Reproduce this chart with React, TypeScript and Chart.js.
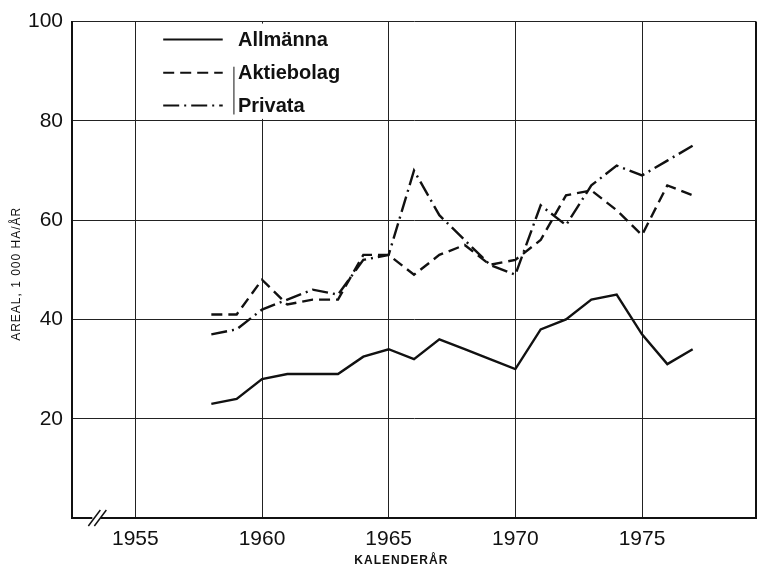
import React, { useEffect, useRef } from "react";
import { Chart, registerables } from "chart.js";

Chart.register(...registerables);

const years = [1958, 1959, 1960, 1961, 1962, 1963, 1964, 1965, 1966, 1967, 1968, 1969, 1970, 1971, 1972, 1973, 1974, 1975, 1976, 1977];
const allmanna = [23, 24, 28, 29, 29, 29, 32.5, 34, 32, 36, 34, 32, 30, 38, 40, 44, 45, 37, 31, 34];
const aktiebolag = [41, 41, 48, 43, 44, 44, 53, 53, 49, 53, 55, 51, 52, 56, 65, 66, 62, 57, 67, 65];
const privata = [37, 38, 42, 44, 46, 45, 52, 53, 70, 61, 56, 51, 49, 63, 59, 67, 71, 69, 72, 75];

const seriesNames = ["Allmänna", "Aktiebolag", "Privata"];
const xTicks = [1955, 1960, 1965, 1970, 1975];
const yTicks = [0, 20, 40, 60, 80, 100];
const xTitle = "KALENDERÅR";
const yTitle = "AREAL, 1 000 HA/ÅR";

const INK = "#111";
const dashes: number[][] = [[], [11, 6], [16, 5, 2, 5]];
const NUMFONT = "'Liberation Sans', Arial, sans-serif";

const decorPlugin = {
  id: "decor",
  beforeDatasetsDraw(chart: any) {
    const { ctx, chartArea, scales } = chart;
    const x = scales.x;
    const y = scales.y;
    ctx.save();
    // right frame
    ctx.strokeStyle = INK;
    ctx.lineWidth = 2;
    ctx.beginPath();
    ctx.moveTo(chartArea.right, chartArea.top);
    ctx.lineTo(chartArea.right, chartArea.bottom);
    ctx.stroke();
    // legend box (covers grid)
    const lx0 = x.getPixelForValue(1956.5);
    const lx1 = x.getPixelForValue(1964.3);
    const top80 = y.getPixelForValue(80);
    ctx.fillStyle = "#fff";
    ctx.fillRect(lx0, chartArea.top + 2, lx1 - lx0, top80 - chartArea.top - 4);
    const rowYs = [y.getPixelForValue(96.4), y.getPixelForValue(89.7), y.getPixelForValue(83.1)];
    const lineStart = x.getPixelForValue(1956.1);
    const lineEnd = x.getPixelForValue(1958.45);
    const textX = x.getPixelForValue(1959.05);
    ctx.font = "bold 20px 'Liberation Sans', Arial, sans-serif";
    ctx.textBaseline = "middle";
    ctx.textAlign = "left";
    seriesNames.forEach((name, i) => {
      ctx.strokeStyle = INK;
      ctx.lineWidth = 2;
      ctx.setLineDash(dashes[i]);
      ctx.beginPath();
      ctx.moveTo(lineStart, rowYs[i]);
      ctx.lineTo(lineEnd, rowYs[i]);
      ctx.stroke();
      ctx.setLineDash([]);
      ctx.fillStyle = INK;
      ctx.fillText(name, textX, rowYs[i] + 1);
    });
    // thin scan bar left of lower legend entries
    ctx.lineWidth = 1;
    ctx.beginPath();
    ctx.moveTo(textX - 4, rowYs[1] - 6);
    ctx.lineTo(textX - 4, rowYs[2] + 9);
    ctx.stroke();
    // axis break mark
    const bx = x.getPixelForValue(1953.5);
    const by = chartArea.bottom;
    ctx.lineWidth = 1.5;
    ctx.fillStyle = "#fff";
    ctx.fillRect(bx - 5, by - 2, 8, 4);
    [-3, 3].forEach((d) => {
      ctx.beginPath();
      ctx.moveTo(bx + d - 6, by + 8);
      ctx.lineTo(bx + d + 6, by - 8);
      ctx.stroke();
    });
    // axis titles
    ctx.fillStyle = INK;
    ctx.textAlign = "center";
    ctx.textBaseline = "middle";
    (ctx as any).letterSpacing = "1px";
    ctx.font = "bold 12px 'Liberation Sans', Arial, sans-serif";
    ctx.fillText(xTitle, x.getPixelForValue(1965.5), chartArea.bottom + 43);
    ctx.font = "12px 'Liberation Sans', Arial, sans-serif";
    ctx.translate(17, (chartArea.top + chartArea.bottom) / 2 + 4);
    ctx.rotate(-Math.PI / 2);
    ctx.fillText(yTitle, 0, 0);
    ctx.restore();
  },
};

export default function App() {
  const ref = useRef<HTMLCanvasElement | null>(null);
  useEffect(() => {
    if (!ref.current) return;
    const mk = (vals: number[]) => years.map((yr, i) => ({ x: yr, y: vals[i] }));
    const chart = new Chart(ref.current, {
      type: "line",
      data: {
        datasets: [allmanna, aktiebolag, privata].map((vals, i) => ({
          label: seriesNames[i],
          data: mk(vals),
          borderColor: INK,
          borderWidth: 2.4,
          borderDash: dashes[i],
          pointRadius: 0,
          tension: 0,
          fill: false,
        })),
      },
      options: {
        animation: false,
        responsive: false,
        maintainAspectRatio: false,
        layout: { padding: { top: 15, right: 6, left: 0, bottom: 0 } },
        plugins: { legend: { display: false }, tooltip: { enabled: false } },
        scales: {
          x: {
            type: "linear",
            min: 1952.5,
            max: 1979.5,
            afterBuildTicks: (s: any) => {
              s.ticks = xTicks.map((v) => ({ value: v }));
            },
            afterFit: (s: any) => {
              s.height = 57;
            },
            grid: { color: "#222", lineWidth: 1, drawTicks: false },
            border: { display: true, color: INK, width: 2 },
            ticks: {
              color: INK,
              padding: 9,
              font: { family: NUMFONT, size: 21 },
              callback: (v: any) => String(v),
            },
          },
          y: {
            min: 0,
            max: 100,
            afterBuildTicks: (s: any) => {
              s.ticks = yTicks.map((v) => ({ value: v }));
            },
            afterFit: (s: any) => {
              s.width = 72;
            },
            grid: { color: "#222", lineWidth: 1, drawTicks: false },
            border: { display: true, color: INK, width: 2 },
            ticks: {
              color: INK,
              padding: 9,
              font: { family: NUMFONT, size: 21 },
              callback: (v: any) => (v === 0 ? "" : String(v)),
            },
          },
        },
      },
      plugins: [decorPlugin],
    });
    return () => chart.destroy();
  }, []);
  return (
    <div style={{ position: "fixed", left: 0, top: 0, width: 762, height: 575, background: "#fff" }}>
      <canvas ref={ref} width={762} height={575} style={{ display: "block" }} />
    </div>
  );
}
